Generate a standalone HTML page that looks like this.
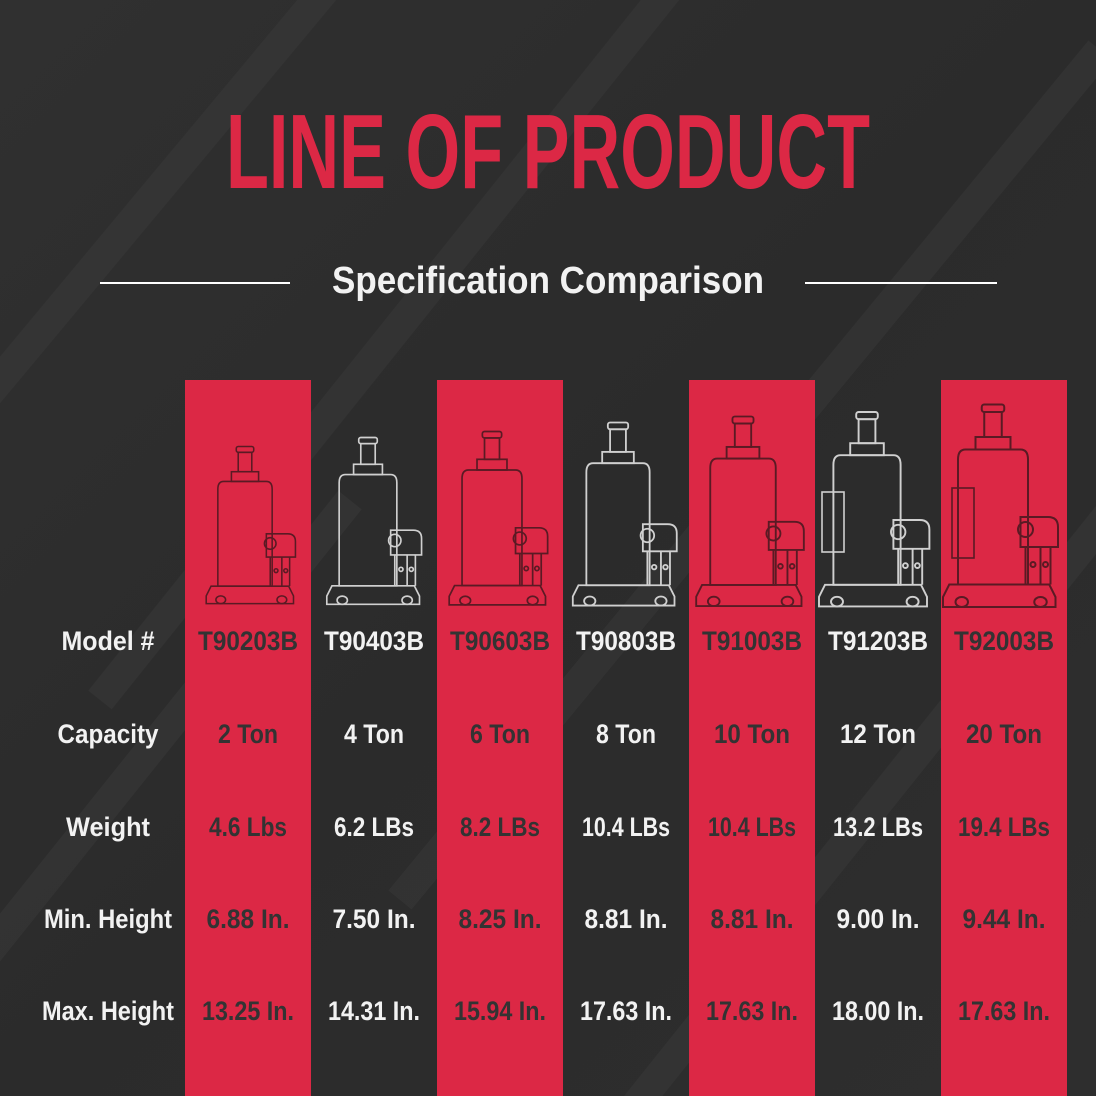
<!DOCTYPE html>
<html><head><meta charset="utf-8"><style>
html,body{margin:0;padding:0;background:#2d2d2d}
svg{display:block}
</style></head><body>
<svg width="1096" height="1096" viewBox="0 0 1096 1096" xmlns="http://www.w3.org/2000/svg">
<defs>
<linearGradient id="bg" x1="0" y1="0" x2="1" y2="1">
<stop offset="0" stop-color="#303030"/><stop offset="0.5" stop-color="#2b2b2b"/><stop offset="1" stop-color="#2e2e2e"/>
</linearGradient>
<g id="jack" fill="none" stroke-width="1.6">
<rect x="-9" y="-150" width="18" height="6" rx="2"/>
<rect x="-7" y="-144" width="14" height="20"/>
<rect x="-14" y="-124" width="28" height="10"/>
<path d="M-22,-114 h44 q6,0 6,8 v100 h-56 v-100 q0,-8 6,-8z"/>
<path d="M-35,-6 h80 l5,10 v8 h-90 v-8z"/>
<ellipse cx="-25" cy="8" rx="5" ry="4"/><ellipse cx="38" cy="8" rx="5" ry="4"/>
<path d="M22,-60 h22 q8,0 8,8 v16 h-30z"/>
<circle cx="26" cy="-50" r="6"/>
<path d="M26,-36 v30 M38,-36 v30 M46,-36 v30"/>
<circle cx="32" cy="-22" r="2"/><circle cx="42" cy="-22" r="2"/>
</g>
</defs>
<rect width="1096" height="1096" fill="url(#bg)"/>
<g stroke="#3a3a3a" stroke-width="30" opacity="0.5">
<line x1="-100" y1="500" x2="400" y2="-100"/>
<line x1="100" y1="700" x2="700" y2="-50"/>
<line x1="400" y1="900" x2="1100" y2="50"/>
<line x1="600" y1="1150" x2="1200" y2="400"/>
<line x1="-50" y1="1000" x2="350" y2="500"/>
</g>
<text x="226" y="188" textLength="644" lengthAdjust="spacingAndGlyphs" font-family="Liberation Sans, sans-serif" font-weight="bold" font-size="106" fill="#dc2845">LINE OF PRODUCT</text>
<line x1="100" y1="283" x2="290" y2="283" stroke="#fff" stroke-width="2"/>
<line x1="805" y1="283" x2="997" y2="283" stroke="#fff" stroke-width="2"/>
<text x="332" y="293" textLength="432" lengthAdjust="spacingAndGlyphs" font-family="Liberation Sans, sans-serif" font-weight="bold" font-size="38" fill="#f2f2f2">Specification Comparison</text>
<g fill="#dc2845">
<rect x="185" y="380" width="126" height="716"/>
<rect x="437" y="380" width="126" height="716"/>
<rect x="689" y="380" width="126" height="716"/>
<rect x="941" y="380" width="126" height="716"/>
</g>
<g stroke="#5a1a24"><use href="#jack" transform="translate(245,592) scale(0.97)"/></g>
<g stroke="#d0d0d0"><use href="#jack" transform="translate(368,592) scale(1.03)"/></g>
<g stroke="#5a1a24"><use href="#jack" transform="translate(492,592) scale(1.07)"/></g>
<g stroke="#d0d0d0"><use href="#jack" transform="translate(618,592) scale(1.13)"/></g>
<g stroke="#5a1a24"><use href="#jack" transform="translate(743,592) scale(1.17)"/></g>
<g stroke="#d0d0d0"><use href="#jack" transform="translate(867,592) scale(1.2)"/><rect x="822" y="492" width="22" height="60" fill="none" stroke-width="1.6"/></g>
<g stroke="#5a1a24"><use href="#jack" transform="translate(993,592) scale(1.25)"/><rect x="952" y="488" width="22" height="70" fill="none" stroke-width="1.6"/></g>
<g font-family="Liberation Sans, sans-serif" font-weight="bold" font-size="27" text-anchor="middle" lengthAdjust="spacingAndGlyphs">
<g fill="#f2f2f2">
<text x="108" y="650" textLength="93" lengthAdjust="spacingAndGlyphs">Model #</text>
<text x="108" y="743" textLength="101" lengthAdjust="spacingAndGlyphs">Capacity</text>
<text x="108" y="836" textLength="84" lengthAdjust="spacingAndGlyphs">Weight</text>
<text x="108" y="928" textLength="128" lengthAdjust="spacingAndGlyphs">Min. Height</text>
<text x="108" y="1020" textLength="132" lengthAdjust="spacingAndGlyphs">Max. Height</text>
<text x="374" y="650" textLength="100" lengthAdjust="spacingAndGlyphs">T90403B</text>
<text x="374" y="743" textLength="60" lengthAdjust="spacingAndGlyphs">4 Ton</text>
<text x="374" y="836" textLength="80" lengthAdjust="spacingAndGlyphs">6.2 LBs</text>
<text x="374" y="928" textLength="83" lengthAdjust="spacingAndGlyphs">7.50 In.</text>
<text x="374" y="1020" textLength="92" lengthAdjust="spacingAndGlyphs">14.31 In.</text>
<text x="626" y="650" textLength="100" lengthAdjust="spacingAndGlyphs">T90803B</text>
<text x="626" y="743" textLength="60" lengthAdjust="spacingAndGlyphs">8 Ton</text>
<text x="626" y="836" textLength="88" lengthAdjust="spacingAndGlyphs">10.4 LBs</text>
<text x="626" y="928" textLength="83" lengthAdjust="spacingAndGlyphs">8.81 In.</text>
<text x="626" y="1020" textLength="92" lengthAdjust="spacingAndGlyphs">17.63 In.</text>
<text x="878" y="650" textLength="100" lengthAdjust="spacingAndGlyphs">T91203B</text>
<text x="878" y="743" textLength="76" lengthAdjust="spacingAndGlyphs">12 Ton</text>
<text x="878" y="836" textLength="90" lengthAdjust="spacingAndGlyphs">13.2 LBs</text>
<text x="878" y="928" textLength="83" lengthAdjust="spacingAndGlyphs">9.00 In.</text>
<text x="878" y="1020" textLength="92" lengthAdjust="spacingAndGlyphs">18.00 In.</text>
</g>
<g fill="#333">
<text x="248" y="650" textLength="100" lengthAdjust="spacingAndGlyphs">T90203B</text>
<text x="248" y="743" textLength="60" lengthAdjust="spacingAndGlyphs">2 Ton</text>
<text x="248" y="836" textLength="78" lengthAdjust="spacingAndGlyphs">4.6 Lbs</text>
<text x="248" y="928" textLength="83" lengthAdjust="spacingAndGlyphs">6.88 In.</text>
<text x="248" y="1020" textLength="92" lengthAdjust="spacingAndGlyphs">13.25 In.</text>
<text x="500" y="650" textLength="100" lengthAdjust="spacingAndGlyphs">T90603B</text>
<text x="500" y="743" textLength="60" lengthAdjust="spacingAndGlyphs">6 Ton</text>
<text x="500" y="836" textLength="80" lengthAdjust="spacingAndGlyphs">8.2 LBs</text>
<text x="500" y="928" textLength="83" lengthAdjust="spacingAndGlyphs">8.25 In.</text>
<text x="500" y="1020" textLength="92" lengthAdjust="spacingAndGlyphs">15.94 In.</text>
<text x="752" y="650" textLength="100" lengthAdjust="spacingAndGlyphs">T91003B</text>
<text x="752" y="743" textLength="76" lengthAdjust="spacingAndGlyphs">10 Ton</text>
<text x="752" y="836" textLength="88" lengthAdjust="spacingAndGlyphs">10.4 LBs</text>
<text x="752" y="928" textLength="83" lengthAdjust="spacingAndGlyphs">8.81 In.</text>
<text x="752" y="1020" textLength="92" lengthAdjust="spacingAndGlyphs">17.63 In.</text>
<text x="1004" y="650" textLength="100" lengthAdjust="spacingAndGlyphs">T92003B</text>
<text x="1004" y="743" textLength="76" lengthAdjust="spacingAndGlyphs">20 Ton</text>
<text x="1004" y="836" textLength="92" lengthAdjust="spacingAndGlyphs">19.4 LBs</text>
<text x="1004" y="928" textLength="83" lengthAdjust="spacingAndGlyphs">9.44 In.</text>
<text x="1004" y="1020" textLength="92" lengthAdjust="spacingAndGlyphs">17.63 In.</text>
</g>
</g>
</svg>
</body></html>
